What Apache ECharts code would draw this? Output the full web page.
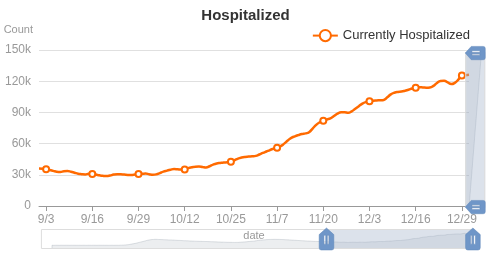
<!DOCTYPE html>
<html>
<head>
<meta charset="utf-8">
<script src="https://cdn.jsdelivr.net/npm/echarts@6/dist/echarts.min.js"></script>
<style>html,body{margin:0;padding:0;background:#fff}#c{width:491px;height:266px}</style>
</head>
<body>
<div id="c"></div>
<script>
// Date range of the data set: 2020-01-13 .. 2020-12-31
var startYear = 2020, startMonth = 1, startDay = 13, dayCount = 354;

// Currently hospitalized, per month (2020)
var hospJan = [null,null,null,null,null,null,null,null,null,0,0,0,0,0,0,0,0,0,0];
var hospFeb = [0,0,0,0,0,0,0,0,0,0,0,0,0,0,0,0,0,0,0,0,0,0,0,0,0,0,0,0,0];
var hospMar = [0,0,0,0,0,0,0,0,0,0,0,0,0,0,0,0,300,800,1200,1800,2500,3200,4500,5800,7400,9800,12000,14500,16500,19000,22000];
var hospApr = [25000,28500,31500,34500,37000,40500,44000,47500,50500,53000,55000,56800,57900,58800,59700,59900,59200,58500,57600,57300,57000,56200,55800,55300,54800,54000,53400,53600,53000,52300];
var hospMay = [51500,50500,49800,49500,49000,48000,47200,46500,46000,45500,44800,44500,43800,43000,42500,42000,41500,41000,40800,40300,39800,39500,39200,38600,38200,38000,37500,37200,36800,36300,36000];
var hospJun = [35500,35000,34600,34200,33600,33000,32500,32000,31800,31400,31000,30600,30200,29800,29500,29200,29000,28800,28600,28700,28900,29300,30000,31000,32000,33000,33800,34500,35800,37000];
var hospJul = [38500,39800,40500,41200,42500,44500,46500,48500,50000,51500,52500,53800,54800,55800,56800,57500,58200,58800,59200,59400,59600,59700,59700,59400,59000,58600,58000,57500,57000,56200,55800];
var hospAug = [55200,54500,53500,52800,52000,51200,50500,49800,48800,47800,47000,46500,45800,45000,44200,43500,42800,42200,41800,41200,40600,40000,39500,39000,38500,38000,37600,37200,36900,36600,36300];
var hospSep = [36100,35900,35300,34600,33800,33000,32800,33400,33600,33000,32000,31000,30600,30400,30900,30800,30200,29500,29000,28800,29300,30200,30600,30500,30200,29900,29800,30300,30800,31000];
var hospOct = [31200,30600,30000,30400,31600,33000,34000,34900,35500,35300,35000,35200,36400,37200,37800,37900,37500,37000,38200,39800,40900,41400,41800,42000,42600,44000,45600,46600,47200,47500,47800];
var hospNov = [48200,49500,51000,52400,53800,55000,56000,57500,60000,63000,65500,67000,68200,69200,69800,71000,74500,78000,80500,82000,83200,84300,86500,88800,90200,90100,89600,91000,93500,96000];
var hospDec = [98500,100000,100700,101200,101500,101700,102000,104500,107300,108900,109700,110000,110800,111800,113000,113800,114200,114000,113700,113900,115500,118300,120200,120400,118800,117200,118400,121500,125500,125800,126200];

var yTicks = [0, 30000, 60000, 90000, 120000, 150000];
var windowStart = '9/1', windowEnd = '12/31';

var hospitalized = [].concat(hospJan, hospFeb, hospMar, hospApr, hospMay, hospJun, hospJul, hospAug, hospSep, hospOct, hospNov, hospDec);
var dates = [];
for (var i = 0; i < dayCount; i++) {
  var d = new Date(startYear, startMonth - 1, startDay + i);
  dates.push((d.getMonth() + 1) + '/' + d.getDate());
}

var FONT = '"Liberation Sans", Arial, sans-serif';
var PIN_DOWN = 'path://M3,0 H17 Q20,0 20,3 V21 L10,30 L0,21 V3 Q0,0 3,0 Z M6.5,8 V20 H9 V8 Z M11,8 V20 H13.5 V8 Z';
var PIN_UP = 'path://M10,0 L20,9 V27 Q20,30 17,30 H3 Q0,30 0,27 V9 Z M6.5,10 V22 H9 V10 Z M11,10 V22 H13.5 V10 Z';
var sliderCommon = {
  showDetail: false, brushSelect: false, moveHandleSize: 0,
  backgroundColor: 'rgba(47,69,84,0)', borderColor: '#ddd',
  fillerColor: 'rgba(167,183,204,0.4)',
  handleSize: '110%',
  handleStyle: {color: '#6f96c8', borderColor: '#5f86b8', borderWidth: 0.5, shadowBlur: 0},
  dataBackground: {lineStyle: {color: '#2f4554', width: 0.5, opacity: 0.3}, areaStyle: {color: 'rgba(47,69,84,0.3)', opacity: 0.3}},
  selectedDataBackground: {lineStyle: {color: '#2f4554', width: 0.5, opacity: 0.3}, areaStyle: {color: 'rgba(47,69,84,0.3)', opacity: 0.3}},
  emphasis: {handleStyle: {color: '#6f96c8', borderColor: '#5f86b8'}}
};
function slider(extra) { return Object.assign({}, sliderCommon, extra); }

var chart = echarts.init(document.getElementById('c'), null, {renderer: 'canvas'});
chart.setOption({
  animation: false,
  textStyle: {fontFamily: FONT},
  title: {
    text: 'Hospitalized', left: 'center', top: 3,
    textStyle: {fontSize: 15, fontWeight: 'bold', color: '#333', fontFamily: FONT}
  },
  legend: {
    right: 16, top: 24, itemWidth: 25, itemHeight: 14,
    textStyle: {fontSize: 13, color: '#333', fontFamily: FONT},
    data: ['Currently Hospitalized']
  },
  grid: {left: 39, right: 22, top: 50, bottom: 60},
  xAxis: {
    type: 'category', data: dates, boundaryGap: false,
    name: 'date', nameLocation: 'middle', nameGap: 23,
    nameTextStyle: {color: '#999', fontSize: 11},
    axisLine: {lineStyle: {color: '#999'}},
    axisTick: {interval: 12, lineStyle: {color: '#999'}},
    axisLabel: {interval: 12, color: '#999', fontSize: 12, margin: 8}
  },
  yAxis: {
    type: 'value', min: yTicks[0], max: yTicks[yTicks.length - 1], interval: yTicks[1] - yTicks[0],
    name: 'Count', nameGap: 15,
    nameTextStyle: {color: '#999', fontSize: 11, align: 'right', padding: [0, 6, 0, 0]},
    axisLine: {show: false}, axisTick: {show: false},
    axisLabel: {color: '#999', fontSize: 12, formatter: function (v) { return v === 0 ? '0' : (v / 1000) + 'k'; }},
    splitLine: {lineStyle: {color: '#e0e0e0'}}
  },
  dataZoom: [
    slider({xAxisIndex: 0, startValue: windowStart, endValue: windowEnd, handleIcon: PIN_DOWN,
            left: 40, right: 18, top: 229, height: 20}),
    slider({yAxisIndex: 0, orient: 'vertical', start: 0, end: 100, handleIcon: PIN_UP, handleSize: '100%',
            left: 465, width: 20, top: 50, bottom: 60})
  ],
  series: [{
    name: 'Currently Hospitalized', type: 'line', data: hospitalized,
    smooth: true, symbol: 'emptyCircle', symbolSize: 6,
    lineStyle: {color: '#ff6a00', width: 2.5},
    itemStyle: {color: '#ff6a00'}
  }]
});
</script>
</body>
</html>
